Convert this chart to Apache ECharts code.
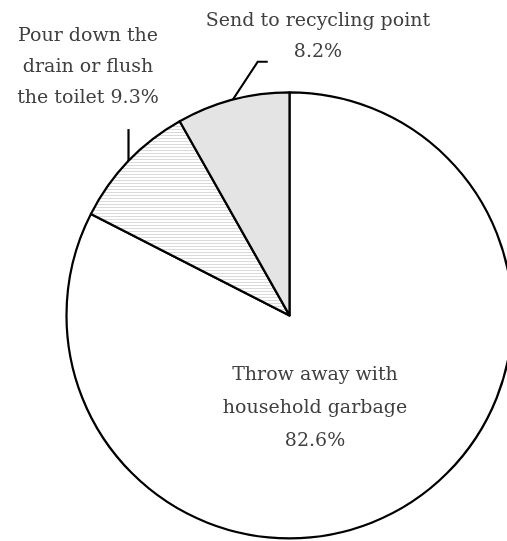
<!DOCTYPE html>
<html>
<head>
<meta charset="utf-8">
<script src="https://cdn.jsdelivr.net/npm/echarts@6/dist/echarts.min.js"></script>
<style>
html,body{margin:0;padding:0;background:#fff;}
#chart{width:507px;height:541px;}
</style>
</head>
<body>
<div id="chart"></div>
<script>
const categories = ['Throw away with\nhousehold garbage', 'Pour down the\ndrain or flush\nthe toilet', 'Send to recycling point'];
const values = [82.6, 9.3, 8.2];
const labelFormats = ['{b}\n{c}%', '{b} {c}%', '{b}\n{c}%'];

function hatch() {
  const c = document.createElement('canvas');
  c.width = 4; c.height = 3;
  const ctx = c.getContext('2d');
  ctx.fillStyle = '#ffffff';
  ctx.fillRect(0, 0, 4, 3);
  ctx.fillStyle = '#dadada';
  ctx.fillRect(0, 0, 4, 1);
  return c;
}
const fills = ['#ffffff', {image: hatch(), repeat: 'repeat'}, '#e4e4e4'];

const chart = echarts.init(document.getElementById('chart'), null, {renderer: 'canvas'});
const textStyle = {fontFamily: 'DejaVu Serif', fontSize: 19, lineHeight: 31, color: '#404040'};

chart.setOption({
  animation: false,
  series: [{
    type: 'pie',
    center: ['57.1%', '58.3%'],
    radius: 223,
    startAngle: 90,
    clockwise: true,
    avoidLabelOverlap: false,
    data: categories.map((name, i) => ({
      name: name,
      value: values[i],
      itemStyle: {color: fills[i]},
      label: {
        position: i === 0 ? 'inside' : 'outside',
        formatter: labelFormats[i],
        lineHeight: i === 0 ? 33 : 31
      },
      labelLine: {show: i !== 0}
    })),
    itemStyle: {borderColor: '#000', borderWidth: 2.2},
    label: Object.assign({show: true, align: 'center'}, textStyle),
    labelLine: {lineStyle: {color: '#000', width: 2.2}, length: 30, length2: 10},
    labelLayout: function (p) {
      const pts = p.labelLinePoints;
      if (p.dataIndex === 0) {
        return {x: 315, y: 408, align: 'center', verticalAlign: 'middle'};
      }
      if (p.dataIndex === 1) {
        const a = pts[0];
        return {x: 88, y: 67, align: 'center', verticalAlign: 'middle',
          labelLinePoints: [a, [a[0], a[1] - 16], [a[0], a[1] - 32]]};
      }
      const a = pts[0];
      return {x: 318, y: 37, align: 'center', verticalAlign: 'middle',
        labelLinePoints: [a, [a[0] + 25, a[1] - 38], [a[0] + 35, a[1] - 38]]};
    }
  }]
});
</script>
</body>
</html>
